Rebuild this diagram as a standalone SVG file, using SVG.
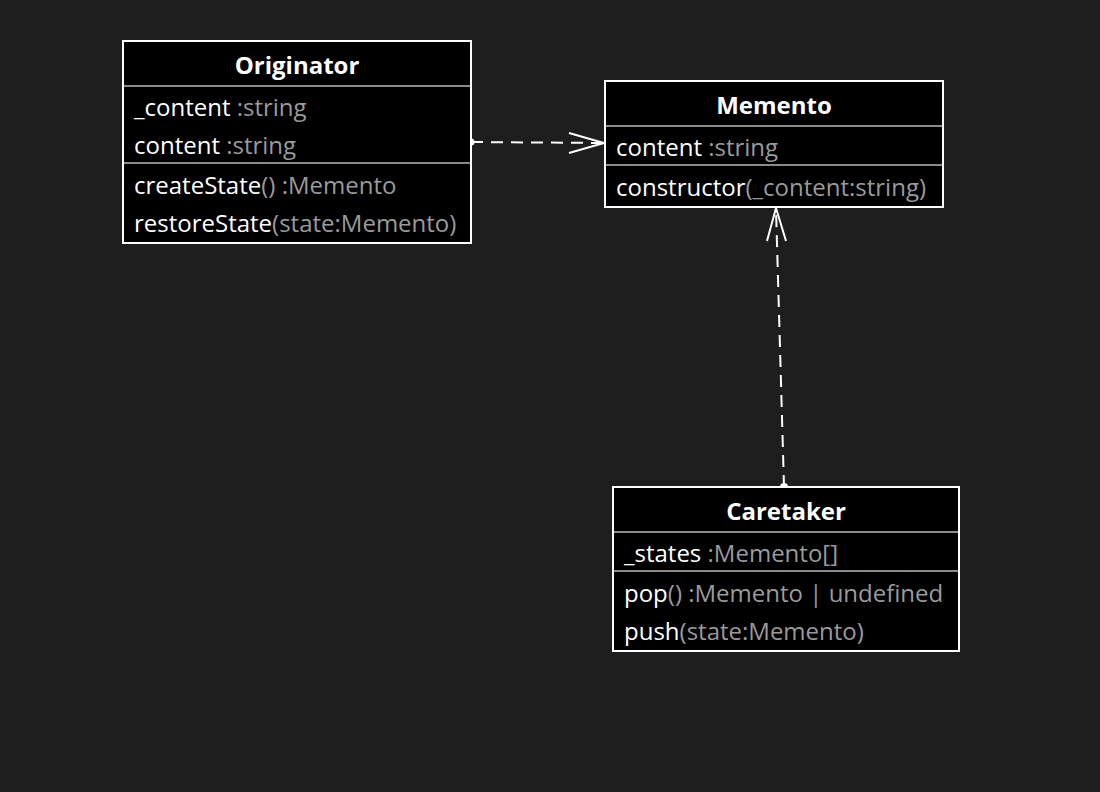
<svg xmlns="http://www.w3.org/2000/svg" width="1100" height="792" viewBox="0 0 1100 792">
<style>
.box{fill:#000;stroke:#fff;stroke-width:2}
.div{stroke:#8a8a8a;stroke-width:2}
text{font-family:"Open Sans","Noto Sans",sans-serif;font-size:24px;fill:#fff}
.t{font-weight:bold;text-anchor:middle}
.g{fill:#9a9a9a}
.c{fill:none;stroke:#fff;stroke-width:2;stroke-dasharray:12 8}
.ah{fill:none;stroke:#fff;stroke-width:2}
</style>
<rect width="1100" height="792" fill="#1e1e1e"/>
<g id="connectors">
<line class="c" x1="471" y1="142" x2="603" y2="143"/>
<path class="ah" d="M569,133 L604,143 L569,153"/>
<circle cx="471" cy="142" r="3.5" fill="#fff"/>
<line class="c" x1="784" y1="487" x2="776" y2="209"/>
<path class="ah" d="M767,241 L776,208 L786,241"/>
<circle cx="784" cy="487" r="4" fill="#fff"/>
</g>
<g id="originator">
<rect class="box" x="123" y="41" width="348" height="202"/>
<line class="div" x1="124" y1="86" x2="470" y2="86"/>
<line class="div" x1="124" y1="163" x2="470" y2="163"/>
<text class="t" x="297" y="74">Originator</text>
<text x="134" y="116">_content<tspan class="g"> :string</tspan></text>
<text x="134" y="154">content<tspan class="g"> :string</tspan></text>
<text x="134" y="194">createState<tspan class="g">() :Memento</tspan></text>
<text x="134" y="232">restoreState<tspan class="g">(state:Memento)</tspan></text>
</g>
<g id="memento">
<rect class="box" x="605" y="81" width="338" height="126"/>
<line class="div" x1="606" y1="126" x2="942" y2="126"/>
<line class="div" x1="606" y1="165" x2="942" y2="165"/>
<text class="t" x="774" y="114">Memento</text>
<text x="616" y="156">content<tspan class="g"> :string</tspan></text>
<text x="616" y="196">constructor<tspan class="g">(_content:string)</tspan></text>
</g>
<g id="caretaker">
<rect class="box" x="613" y="487" width="346" height="164"/>
<line class="div" x1="614" y1="532" x2="958" y2="532"/>
<line class="div" x1="614" y1="571" x2="958" y2="571"/>
<text class="t" x="786" y="520">Caretaker</text>
<text x="624" y="562">_states<tspan class="g"> :Memento[]</tspan></text>
<text x="624" y="602">pop<tspan class="g">() :Memento | undefined</tspan></text>
<text x="624" y="640">push<tspan class="g">(state:Memento)</tspan></text>
</g>
</svg>
